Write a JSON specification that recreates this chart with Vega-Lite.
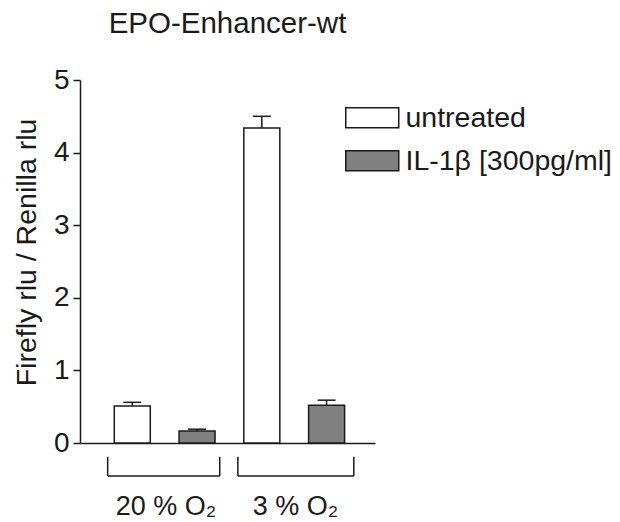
{
  "$schema": "https://vega.github.io/schema/vega-lite/v6.json",
  "width": 295,
  "height": 363,
  "autosize": "none",
  "padding": {"left": 80, "top": 80, "right": 245, "bottom": 79},
  "background": "white",
  "title": {"text": "EPO-Enhancer-wt", "fontSize": 29.5, "font": "Liberation Sans", "fontWeight": "normal", "color": "#1a1a1a", "anchor": "middle", "offset": 27},
  "config": {"view": {"stroke": null}, "font": "Liberation Sans"},
  "datasets": {
    "bars": [
      {"pos": 1, "treatment": "untreated", "oxygen": "20 % O₂", "value": 0.51, "err": 0.56},
      {"pos": 2, "treatment": "IL-1β [300pg/ml]", "oxygen": "20 % O₂", "value": 0.165, "err": 0.19},
      {"pos": 3, "treatment": "untreated", "oxygen": "3 % O₂", "value": 4.34, "err": 4.5},
      {"pos": 4, "treatment": "IL-1β [300pg/ml]", "oxygen": "3 % O₂", "value": 0.52, "err": 0.59}
    ],
    "brackets": [
      {"label": "20 % O₂", "x1": 0.62, "x2": 2.35, "mid": 1.52, "top": -0.19, "bottom": -0.455, "ly": -0.88},
      {"label": "3 % O₂", "x1": 2.63, "x2": 4.42, "mid": 3.52, "top": -0.19, "bottom": -0.455, "ly": -0.88}
    ]
  },
  "layer": [
    {
      "data": {"name": "bars"},
      "mark": {"type": "rule", "stroke": "#1a1a1a", "strokeWidth": 1.5},
      "encoding": {
        "x": {"field": "pos", "type": "quantitative"},
        "y": {"field": "value", "type": "quantitative"},
        "y2": {"field": "err"}
      }
    },
    {
      "data": {"name": "bars"},
      "mark": {"type": "tick", "orient": "horizontal", "size": 18, "thickness": 1.5, "color": "#1a1a1a", "opacity": 1},
      "encoding": {
        "x": {"field": "pos", "type": "quantitative"},
        "y": {"field": "err", "type": "quantitative"}
      }
    },
    {
      "data": {"name": "bars"},
      "mark": {"type": "bar", "width": 36, "stroke": "#1a1a1a", "strokeWidth": 1.5},
      "encoding": {
        "x": {"field": "pos", "type": "quantitative",
              "scale": {"domain": [0.27, 4.67], "nice": false, "zero": false},
              "axis": {"labels": false, "ticks": false, "title": null, "grid": false, "domain": true, "domainColor": "#1a1a1a", "domainWidth": 1.5}},
        "y": {"field": "value", "type": "quantitative",
              "scale": {"domain": [0, 5], "nice": false},
              "axis": {"title": "Firefly rlu / Renilla rlu", "values": [0, 1, 2, 3, 4, 5], "format": "d", "grid": false,
                       "domainColor": "#1a1a1a", "domainWidth": 1.5, "tickColor": "#1a1a1a", "tickWidth": 1.5, "tickSize": 7,
                       "labelFontSize": 28, "labelColor": "#1a1a1a", "labelPadding": 4, "labelFont": "Liberation Sans",
                       "titleFontSize": 28.5, "titleFontWeight": "normal", "titleColor": "#1a1a1a", "titleFont": "Liberation Sans", "titlePadding": 12, "titleY": 172}},
        "fill": {"field": "treatment", "type": "nominal",
                 "scale": {"domain": ["untreated", "IL-1β [300pg/ml]"], "range": ["#ffffff", "#808080"]},
                 "legend": {"title": null, "orient": "none", "legendX": 278, "legendY": 23.5,
                            "symbolType": "M-2,-0.75H2V0.75H-2Z", "symbolSize": 702, "symbolStrokeColor": "#1a1a1a", "symbolStrokeWidth": 1.5,
                            "labelFontSize": 28.5, "labelColor": "#1a1a1a", "labelFont": "Liberation Sans", "rowPadding": 14, "labelOffset": 19, "labelLimit": 400, "padding": 0}}
      }
    },
    {
      "data": {"name": "brackets"},
      "mark": {"type": "rule", "stroke": "#1a1a1a", "strokeWidth": 1.5},
      "encoding": {"x": {"field": "x1", "type": "quantitative"}, "x2": {"field": "x2"}, "y": {"field": "bottom", "type": "quantitative"}}
    },
    {
      "data": {"name": "brackets"},
      "mark": {"type": "rule", "stroke": "#1a1a1a", "strokeWidth": 1.5},
      "encoding": {"x": {"field": "x1", "type": "quantitative"}, "y": {"field": "top", "type": "quantitative"}, "y2": {"field": "bottom"}}
    },
    {
      "data": {"name": "brackets"},
      "mark": {"type": "rule", "stroke": "#1a1a1a", "strokeWidth": 1.5},
      "encoding": {"x": {"field": "x2", "type": "quantitative"}, "y": {"field": "top", "type": "quantitative"}, "y2": {"field": "bottom"}}
    },
    {
      "data": {"name": "brackets"},
      "mark": {"type": "text", "fontSize": 27, "font": "Liberation Sans", "color": "#1a1a1a", "baseline": "middle"},
      "encoding": {"x": {"field": "mid", "type": "quantitative"}, "y": {"field": "ly", "type": "quantitative"}, "text": {"field": "label"}}
    }
  ]
}
